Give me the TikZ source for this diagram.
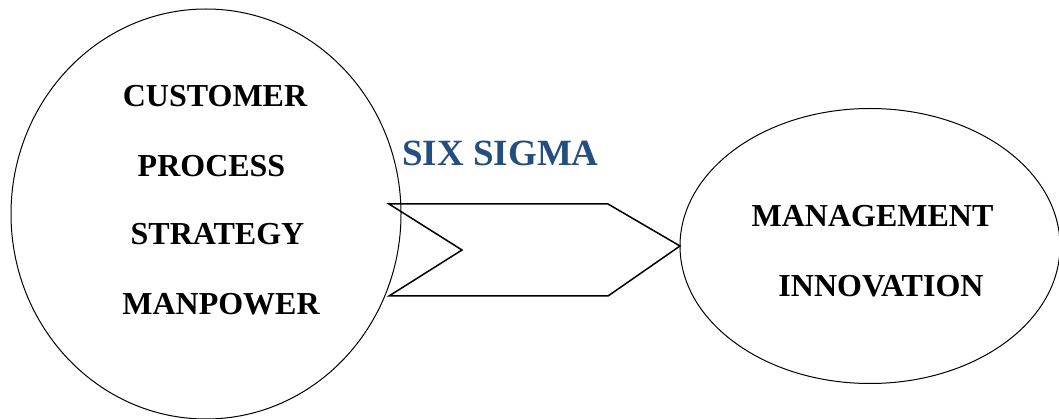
\documentclass[tikz,border=0pt]{standalone}
\usepackage{fontspec}
\setmainfont{Liberation Serif}
\usetikzlibrary{shapes.geometric}
\definecolor{sigmablue}{RGB}{36,78,128}
\tikzset{
  bubble/.style={draw, ellipse, line width=1pt, inner sep=0pt, outer sep=0pt},
  label/.style={anchor=base, inner sep=0pt, font=\bfseries\fontsize{32}{38}\selectfont},
  title/.style={anchor=base, inner sep=0pt, text=sigmablue, font=\bfseries\fontsize{37}{44}\selectfont},
  chevron/.style={draw, line width=1.5pt, line join=miter}
}
\begin{document}
\begin{tikzpicture}[x=1pt,y=-1pt]
\useasboundingbox (0,0) rectangle (1059,419);
\node[bubble, minimum width=390pt, minimum height=410pt] (left) at (206,214) {};
\node[bubble, minimum width=380pt, minimum height=275pt] (right) at (870,246) {};
\coordinate (tl) at (389,204);
\coordinate (tr) at (608,204);
\coordinate (tip) at (right.west);
\coordinate (br) at (608,296);
\coordinate (bl) at (389,296);
\coordinate (notch) at (462,250);
\draw[chevron] (tl) -- (tr) -- (tip) -- (br) -- (bl) -- (notch) -- cycle;
\node[title] (six) at (500.5,166) {SIX SIGMA};
\node[label] (cust) at (215,107) {CUSTOMER};
\node[label] (proc) at (211.5,177) {PROCESS};
\node[label] (strat) at (217.5,245) {STRATEGY};
\node[label] (man) at (221,315) {MANPOWER};
\node[label] (mgmt) at (872.5,227) {MANAGEMENT};
\node[label] (innov) at (881,297) {INNOVATION};
\end{tikzpicture}
\end{document}
